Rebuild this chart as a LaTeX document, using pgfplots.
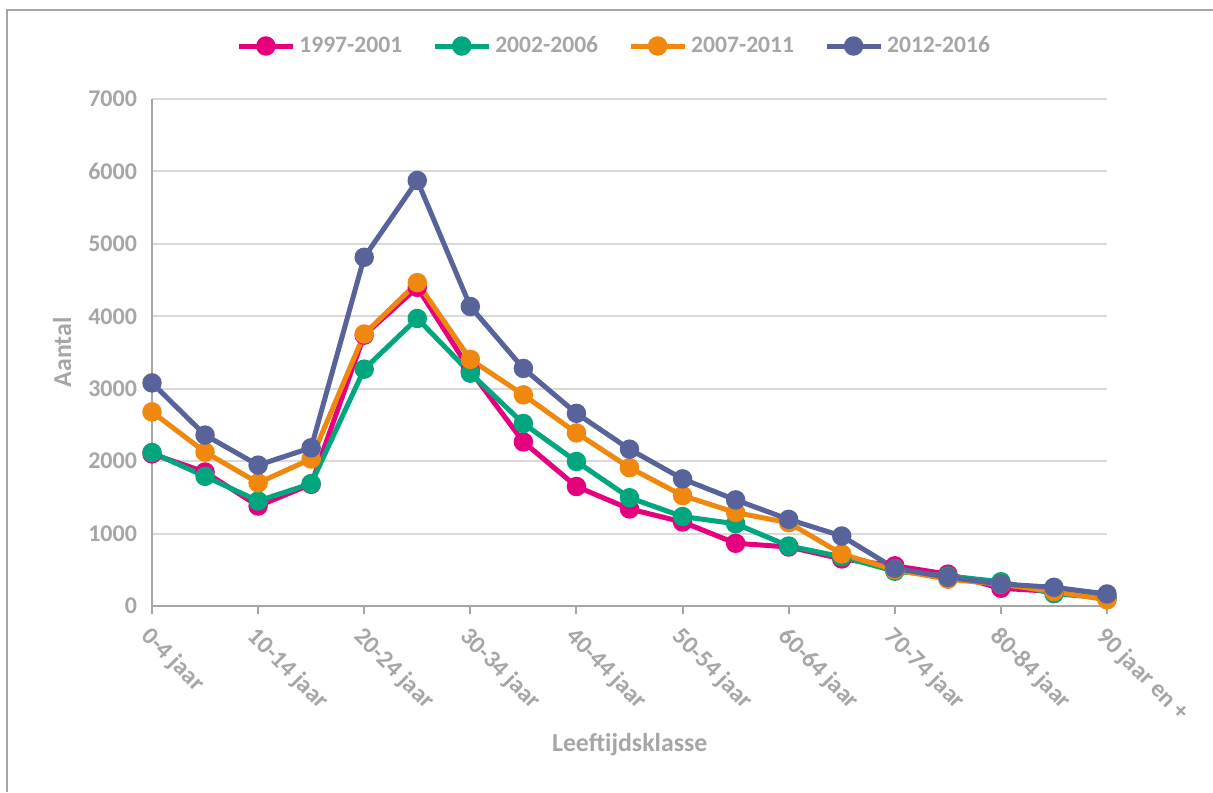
\documentclass[border=0pt]{standalone}
\usepackage{pgfplots}
\pgfplotsset{compat=1.18}
\usepackage{fontspec}
\setmainfont{Carlito}
\definecolor{cpink}{HTML}{E6007E}
\definecolor{cgreen}{HTML}{00A67E}
\definecolor{corange}{HTML}{F0870F}
\definecolor{cblue}{HTML}{57639A}
\definecolor{ctext}{HTML}{A6A6A6}
\definecolor{cgrid}{HTML}{D9D9D9}
\definecolor{caxis}{HTML}{A6A6A6}
\begin{document}
\begin{tikzpicture}
\useasboundingbox (0,0) rectangle (606.5pt,396pt);
\draw[caxis, line width=1pt] (3.5pt,0) -- (3.5pt,391pt) -- (606.5pt,391pt);
\begin{axis}[
  at={(76pt,93pt)}, anchor=south west, scale only axis,
  width=477.5pt, height=253.5pt,
  xmin=0, xmax=18, ymin=0, ymax=7000,
  clip=false,
  axis lines=left,
  axis line style={draw=caxis, line width=1.2pt, -},
  xtick={0,2,...,18},
  xticklabels={0-4 jaar,10-14 jaar,20-24 jaar,30-34 jaar,40-44 jaar,50-54 jaar,60-64 jaar,70-74 jaar,80-84 jaar,90 jaar en +},
  xticklabel style={xshift=0.5pt, yshift=-4pt, rotate=-45, anchor=north west, inner sep=1pt, font=\bfseries\fontsize{12.3}{14}\selectfont, text=ctext},
  ytick={0,1000,...,7000},
  yticklabel style={font=\bfseries\fontsize{12}{14}\selectfont, text=ctext},
  ymajorgrids,
  grid style={draw=cgrid, line width=1pt},
  y tick style={draw=none},
  x tick style={draw=caxis, line width=1pt},
  major tick length=4pt,
  tick align=outside,
  scaled y ticks=false,
  /pgf/number format/1000 sep={},
  /pgf/number format/assume math mode=true,
  xlabel={Leeftijdsklasse},
  ylabel={Aantal},
  xlabel style={at={(axis description cs:0.5002,-0.274)}, anchor=center, font=\bfseries\fontsize{12.9}{15}\selectfont, text=ctext},
  ylabel style={at={(axis description cs:-0.0942,0.5)}, anchor=center, font=\bfseries\fontsize{12.9}{15}\selectfont, text=ctext},
  legend columns=4,
  legend cell align=left,
  legend style={at={(axis description cs:0.485,1.1045)}, anchor=center, draw=none,
    font=\bfseries\fontsize{11.8}{13}\selectfont, text=ctext,
    /tikz/every even column/.append style={column sep=13pt}},
  legend image code/.code={\draw[mark repeat=2, mark phase=2] plot coordinates {(0pt,0pt) (13.5pt,0pt) (27pt,0pt)};},
  every axis plot/.append style={line width=2.5pt, mark=*, mark size=3.6pt, mark options={solid}},
]
\addplot[cpink] coordinates {(0,2100) (1,1850) (2,1380) (3,1680) (4,3740) (5,4400) (6,3250) (7,2265) (8,1650) (9,1340) (10,1160) (11,866) (12,815) (13,650) (14,555) (15,440) (16,245) (17,200) (18,110)};
\addlegendentry{1997-2001}
\addplot[cgreen] coordinates {(0,2120) (1,1790) (2,1450) (3,1690) (4,3270) (5,3970) (6,3215) (7,2520) (8,1995) (9,1495) (10,1235) (11,1135) (12,828) (13,680) (14,480) (15,415) (16,335) (17,170) (18,110)};
\addlegendentry{2002-2006}
\addplot[corange] coordinates {(0,2680) (1,2125) (2,1700) (3,2030) (4,3755) (5,4465) (6,3405) (7,2915) (8,2390) (9,1910) (10,1525) (11,1290) (12,1150) (13,718) (14,500) (15,370) (16,300) (17,200) (18,85)};
\addlegendentry{2007-2011}
\addplot[cblue] coordinates {(0,3080) (1,2360) (2,1945) (3,2185) (4,4815) (5,5875) (6,4135) (7,3280) (8,2660) (9,2165) (10,1755) (11,1465) (12,1196) (13,966) (14,520) (15,396) (16,304) (17,258) (18,166)};
\addlegendentry{2012-2016}
\end{axis}
\end{tikzpicture}
\end{document}
